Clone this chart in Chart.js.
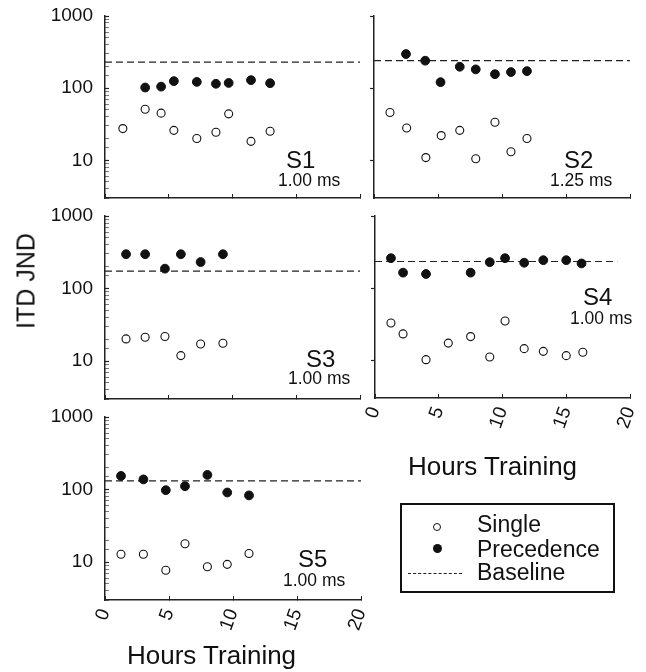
<!DOCTYPE html>
<html><head><meta charset="utf-8">
<script src="https://cdn.jsdelivr.net/npm/chart.js@4"></script>
<style>
html,body{margin:0;padding:0;background:#fff;}
body{width:646px;height:672px;position:relative;overflow:hidden;font-family:"Liberation Sans",Arial,Helvetica,sans-serif;color:#111;}
canvas{position:absolute;}
.t{position:absolute;white-space:nowrap;line-height:1;}
</style></head><body>
<script>
const FONT = '"Liberation Sans", Arial, Helvetica, sans-serif';
const xTickValues = [0, 5, 10, 15, 20];
const yTickLabels = [10, 100, 1000];
const yMin = 3, yMax = 1000, xMin = 0, xMax = 20;

const s1SingleHours = [1.4, 3.15, 4.4, 5.4, 7.2, 8.7, 9.7, 11.45, 12.95];
const s1Single      = [27.5, 51, 45, 26, 20, 24.5, 44, 18.3, 25.3];
const s1PrecHours   = [3.15, 4.4, 5.4, 7.2, 8.7, 9.7, 11.45, 12.95];
const s1Prec        = [102, 105, 125, 122, 115, 118, 129, 117];

const s2SingleHours = [1.25, 2.55, 4.05, 5.25, 6.7, 7.95, 9.45, 10.7, 11.95];
const s2Single      = [46, 28, 10.9, 22, 26, 10.5, 33.7, 13.1, 20];
const s2PrecHours   = [2.5, 4.0, 5.2, 6.7, 7.95, 9.45, 10.7, 11.95];
const s2Prec        = [297, 240, 121, 198, 182, 156, 167, 172];

const s3SingleHours = [1.65, 3.15, 4.7, 5.95, 7.5, 9.25];
const s3Single      = [20.2, 21.3, 21.8, 11.9, 17.2, 17.6];
const s3PrecHours   = [1.65, 3.15, 4.7, 5.95, 7.5, 9.25];
const s3Prec        = [297, 297, 188, 297, 232, 297];

const s4SingleHours = [1.25, 2.2, 4.0, 5.75, 7.5, 9.0, 10.2, 11.7, 13.2, 15.0, 16.3];
const s4Single      = [32.8, 23.2, 10.2, 17.3, 21.3, 11.1, 35, 14.5, 13.3, 11.6, 12.9];
const s4PrecHours   = [1.25, 2.2, 4.0, 7.5, 9.0, 10.2, 11.7, 13.2, 15.0, 16.2];
const s4Prec        = [260, 164, 157, 164, 229, 260, 225, 244, 244, 220];

const s5SingleHours = [1.25, 3.0, 4.75, 6.25, 8.0, 9.55, 11.25];
const s5Single      = [12.8, 12.8, 7.7, 17.9, 8.6, 9.3, 13.1];
const s5PrecHours   = [1.25, 3.0, 4.75, 6.25, 8.0, 9.55, 11.25];
const s5Prec        = [154, 138, 98, 111, 159, 91, 83];

const subjects   = ['S1', 'S2', 'S3', 'S4', 'S5'];
const delays     = ['1.00 ms', '1.25 ms', '1.00 ms', '1.00 ms', '1.00 ms'];
const baselines  = [230, 240, 174, 234, 132];
const baselineEndHours = [20, 20, 20, 19, 20];
const legendLabels = ['Single', 'Precedence', 'Baseline'];
const yTitle = 'ITD JND';
const xTitle = 'Hours Training';

const series = [
  [s1SingleHours, s1Single, s1PrecHours, s1Prec],
  [s2SingleHours, s2Single, s2PrecHours, s2Prec],
  [s3SingleHours, s3Single, s3PrecHours, s3Prec],
  [s4SingleHours, s4Single, s4PrecHours, s4Prec],
  [s5SingleHours, s5Single, s5PrecHours, s5Prec]
];

// layout: chart area rectangles [left, top, right, bottom]
const layoutRects = [
  [105, 16, 360, 198],
  [374, 16, 630, 198],
  [105, 216, 360, 399],
  [375, 216, 630, 398],
  [105, 417, 361, 600]
];
const showYLabels = [true, false, true, false, true];
const showXLabels = [false, false, false, true, true];
const PAD = 40;

function addText(str, left, baseline, size, extra) {
  const d = document.createElement('div');
  d.className = 't';
  d.textContent = str;
  d.style.fontSize = size + 'px';
  d.style.left = left + 'px';
  d.style.top = (baseline - 0.8465 * size) + 'px';
  if (extra) Object.assign(d.style, extra);
  document.body.appendChild(d);
  return d;
}

const isMajor = v => yTickLabels.includes(v);

series.forEach((s, i) => {
  const [L, T, R, B] = layoutRects[i];
  const yL = showYLabels[i], xL = showXLabels[i];
  const yW = yL ? 80 : 10;
  const xH = xL ? 40 : 10;
  const c = document.createElement('canvas');
  c.width = (R - L) + yW + 2 * PAD;
  c.height = (B - T) + xH + 2 * PAD;
  c.style.left = (L - yW - PAD) + 'px';
  c.style.top = (T - PAD) + 'px';
  document.body.appendChild(c);
  new Chart(c, {
    type: 'scatter',
    data: {
      datasets: [
        { label: legendLabels[0], data: s[0].map((x, k) => ({x, y: s[1][k]})),
          pointRadius: 4, pointBorderWidth: 1.1, pointBackgroundColor: '#fff', pointBorderColor: '#111' },
        { label: legendLabels[1], data: s[2].map((x, k) => ({x, y: s[3][k]})),
          pointRadius: 4.4, pointBorderWidth: 1, pointBackgroundColor: '#111', pointBorderColor: '#111' },
        { label: legendLabels[2], type: 'line',
          data: [{x: xMin, y: baselines[i]}, {x: baselineEndHours[i], y: baselines[i]}],
          borderColor: '#222', borderWidth: 1.2, borderDash: [7, 4], pointRadius: 0, fill: false }
      ]
    },
    options: {
      responsive: false, animation: false, devicePixelRatio: 1, events: [],
      layout: { padding: PAD },
      plugins: { legend: { display: false }, tooltip: { enabled: false } },
      scales: {
        x: {
          type: 'linear', min: xMin, max: xMax,
          ticks: { display: xL, stepSize: 5, autoSkip: false, minRotation: 70, maxRotation: 70, padding: 10,
                   font: { family: FONT, size: 19 }, color: '#111' },
          grid: { drawOnChartArea: false, drawTicks: true, tickLength: -4, tickColor: '#222', tickWidth: 1 },
          border: { display: true, color: '#222', width: 1.5 },
          afterFit: sc => { sc.height = xH; }
        },
        y: {
          type: 'logarithmic', min: yMin, max: yMax,
          ticks: { display: yL, autoSkip: false, padding: 16,
                   callback: v => isMajor(v) ? String(v) : '',
                   font: { family: FONT, size: 19 }, color: '#111' },
          grid: { drawOnChartArea: false, drawTicks: true, tickLength: yL ? -4 : 4,
                  tickColor: ctx => isMajor(ctx.tick.value) ? '#222' : (yL ? '#777' : 'rgba(0,0,0,0)'),
                  tickWidth: ctx => isMajor(ctx.tick.value) ? 1.2 : 1 },
          border: { display: true, color: '#222', width: 1.5 },
          afterFit: sc => { sc.width = yW; }
        }
      }
    }
  });
});

// panel annotations
const labelPos = [
  [286, 168, 278, 187],
  [564, 168, 550, 187],
  [306, 367, 288, 385],
  [583, 305, 570, 325],
  [298, 567, 283, 587]
];
labelPos.forEach((p, i) => {
  addText(subjects[i], p[0], p[1], 24);
  addText(delays[i], p[2], p[3], 17.5);
});

// axis titles
addText(xTitle, 127, 664, 26);
addText(xTitle, 408, 475, 26);
const yt = document.createElement('div');
yt.className = 't';
yt.textContent = yTitle;
Object.assign(yt.style, { fontSize: '25px', left: '26px', top: '281px', transform: 'translate(-50%,-50%) rotate(-90deg)' });
document.body.appendChild(yt);

// legend box
const box = document.createElement('div');
Object.assign(box.style, { position: 'absolute', left: '400px', top: '503px', width: '215px', height: '90px',
  border: '2px solid #111', boxSizing: 'border-box' });
document.body.appendChild(box);
addText(legendLabels[0], 477, 532, 23);
addText(legendLabels[1], 477, 557, 23);
addText(legendLabels[2], 477, 580, 23);
const m1 = document.createElement('div');
Object.assign(m1.style, { position: 'absolute', left: '433px', top: '523px', width: '6px', height: '6px',
  border: '1px solid #111', borderRadius: '50%', background: '#fff' });
document.body.appendChild(m1);
const m2 = document.createElement('div');
Object.assign(m2.style, { position: 'absolute', left: '433px', top: '544px', width: '9px', height: '9px',
  borderRadius: '50%', background: '#111' });
document.body.appendChild(m2);
const m3 = document.createElement('div');
Object.assign(m3.style, { position: 'absolute', left: '408px', top: '573px', width: '54px', height: '0',
  borderTop: '1px dashed #222' });
document.body.appendChild(m3);
</script>
</body></html>
